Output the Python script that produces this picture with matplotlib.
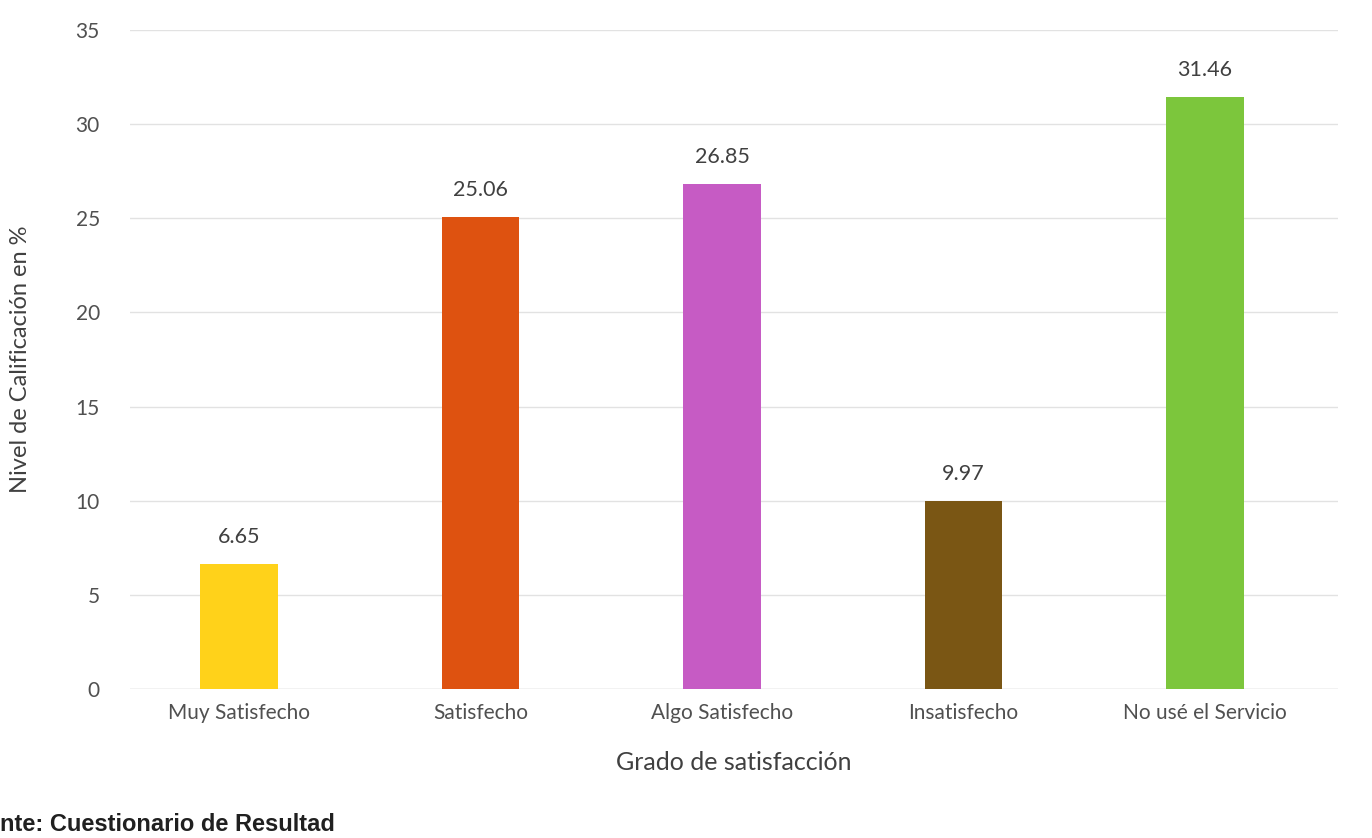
import matplotlib
matplotlib.use("Agg")
import matplotlib.pyplot as plt

categorias = ["Muy Satisfecho", "Satisfecho", "Algo Satisfecho", "Insatisfecho", "No usé el Servicio"]
valores = [6.65, 25.06, 26.85, 9.97, 31.46]
colores = ["#FFD21A", "#DE5210", "#C65BC4", "#7A5614", "#7CC63C"]
yticks = [0, 5, 10, 15, 20, 25, 30, 35]

plt.rcParams['font.family'] = ['Lato', 'DejaVu Sans']

fig = plt.figure(figsize=(13.72, 8.38), dpi=100)
ax = fig.add_axes([0.095, 0.178, 0.88, 0.786])

x = range(len(categorias))
bars = ax.bar(x, valores, width=0.32, color=colores, zorder=2)
for b, v in zip(bars, valores):
    ax.text(b.get_x() + b.get_width() / 2, v + 0.9, f"{v:.2f}", ha="center", va="bottom",
            fontsize=15.5, color="#404040")

ax.set_ylim(0, 35)
ax.set_xlim(-0.45, 4.55)
ax.set_yticks(yticks)
ax.set_yticklabels([str(t) for t in yticks])
ax.set_xticks(list(x))
ax.set_xticklabels(categorias)
ax.tick_params(axis="both", length=0, labelsize=15, labelcolor="#505050", pad=10)
ax.tick_params(axis="y", pad=22)
ax.grid(axis="y", color="#E2E2E2", linewidth=1, zorder=0)
for s in ax.spines.values():
    s.set_visible(False)
ax.axhline(0, color="#D8D8D8", linewidth=1, zorder=1)

ax.set_ylabel("Nivel de Calificación en %", fontsize=17, color="#404040", labelpad=32)
ax.set_xlabel("Grado de satisfacción", fontsize=18, color="#404040", labelpad=20)

fig.text(0.0, 0.008, "nte: Cuestionario de Resultad", fontsize=17, fontweight="bold",
         family=["Liberation Sans", "DejaVu Sans"], color="#202020")

fig.savefig("out.png", dpi=100)
